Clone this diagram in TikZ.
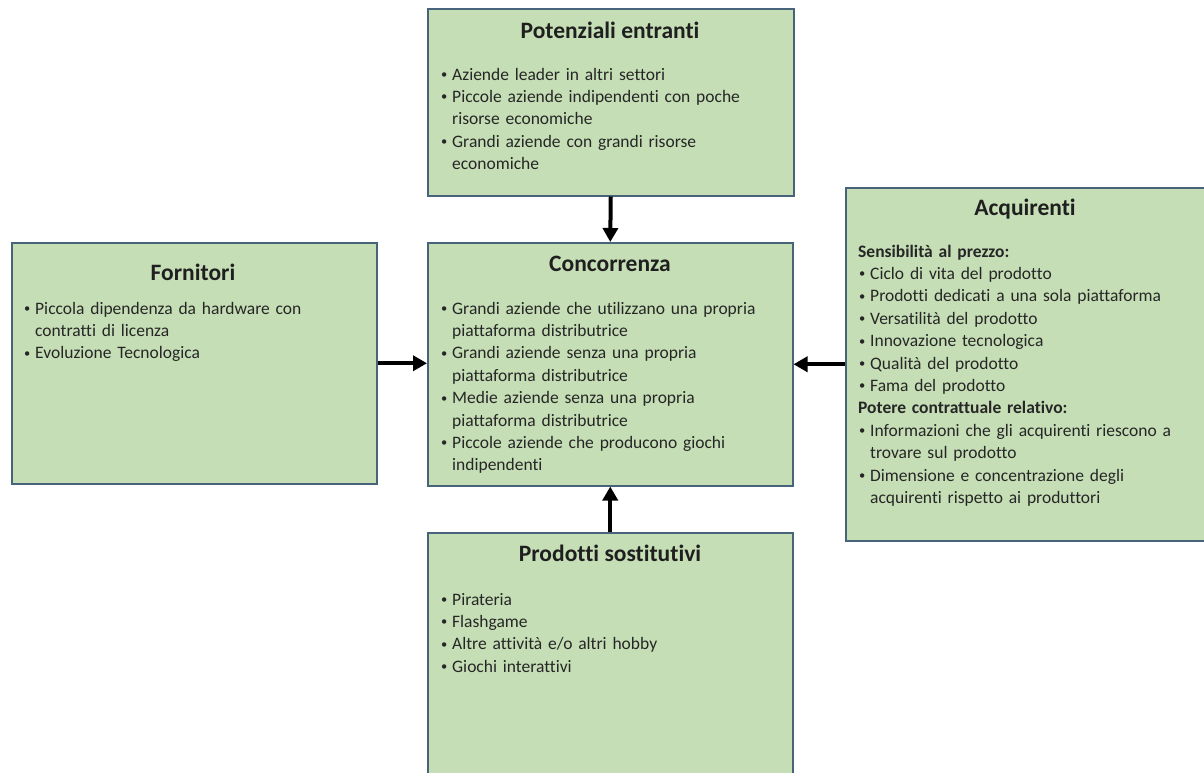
\documentclass[tikz,border=0pt]{standalone}
\usepackage{fontspec}
\setmainfont{Carlito}[Ligatures=NoCommon]
\usetikzlibrary{arrows.meta}
\definecolor{boxfill}{RGB}{197,222,181}
\definecolor{boxline}{RGB}{72,100,122}
\newcommand{\Bu}{\makebox[12pt][l]{\hspace*{1pt}\raisebox{1.6pt}{\fontsize{12.5}{12.5}\selectfont•}}}
\newcommand{\In}{\hspace*{12pt}}
\tikzset{
  box/.style={draw=boxline, fill=boxfill, line width=1.5pt, anchor=north west, inner sep=0pt},
  ttl/.style={font=\fontsize{23.5}{28}\selectfont\bfseries, anchor=base, inner sep=0pt, text=black!88},
  body/.style={font=\fontsize{17.5}{22.4}\selectfont, anchor=north west, inner sep=0pt, text width=420pt, align=left, text=black!85},
  arr/.style={line width=4pt, -{Triangle[width=15pt,length=14pt]}}
}
\begin{document}
\begin{tikzpicture}[x=1pt,y=-1pt]
\useasboundingbox (0,0) rectangle (1204,772);
% boxes
\node[box, minimum width=366pt, minimum height=187pt] (pot) at (427,8) {};
\node[box, minimum width=365pt, minimum height=241pt] (forn) at (11,242) {};
\node[box, minimum width=365pt, minimum height=243pt] (conc) at (427,242) {};
\node[box, minimum width=375pt, minimum height=353pt] (acq) at (845,187) {};
\node[box, minimum width=365pt, minimum height=260pt] (prod) at (427,532) {};
% titles
\node[ttl] (potT) at (610,38) {Potenziali entranti};
\node[ttl] (fornT) at (193,280) {Fornitori};
\node[ttl] (concT) at (610,271) {Concorrenza};
\node[ttl] (acqT) at (1025,215) {Acquirenti};
\node[ttl] (prodT) at (610,561) {Prodotti sostitutivi};
% bodies (first baseline = top + 15.68)
\node[body] (potB) at (440,64.3) {\strut\Bu Aziende leader in altri settori\\
\Bu Piccole aziende indipendenti con poche\\
\In risorse economiche\\
\Bu Grandi aziende con grandi risorse\\
\In economiche};
\node[body] (fornB) at (23,298.3) {\strut\Bu Piccola dipendenza da hardware con\\
\In contratti di licenza\\
\Bu Evoluzione Tecnologica};
\node[body] (concB) at (440,298.3) {\strut\Bu Grandi aziende che utilizzano una propria\\
\In piattaforma distributrice\\
\Bu Grandi aziende senza una propria\\
\In piattaforma distributrice\\
\Bu Medie aziende senza una propria\\
\In piattaforma distributrice\\
\Bu Piccole aziende che producono giochi\\
\In indipendenti};
\node[body] (acqB) at (858,241.3) {\strut\textbf{Sensibilità al prezzo:}\\
\Bu Ciclo di vita del prodotto\\
\Bu Prodotti dedicati a una sola piattaforma\\
\Bu Versatilità del prodotto\\
\Bu Innovazione tecnologica\\
\Bu Qualità del prodotto\\
\Bu Fama del prodotto\\
\textbf{Potere contrattuale relativo:}\\
\Bu Informazioni che gli acquirenti riescono a\\
\In trovare sul prodotto\\
\Bu Dimensione e concentrazione degli\\
\In acquirenti rispetto ai produttori};
\node[body] (prodB) at (440,589.3) {\strut\Bu Pirateria\\
\Bu Flashgame\\
\Bu Altre attività e/o altri hobby\\
\Bu Giochi interattivi};
% arrows
\draw[arr] (pot.south) -- (conc.north);
\draw[arr] (forn.east) -- (forn.east -| conc.west);
\draw[arr] (acq.west) -- (acq.west -| conc.east);
\draw[arr] (prod.north) -- (conc.south);
\end{tikzpicture}
\end{document}
